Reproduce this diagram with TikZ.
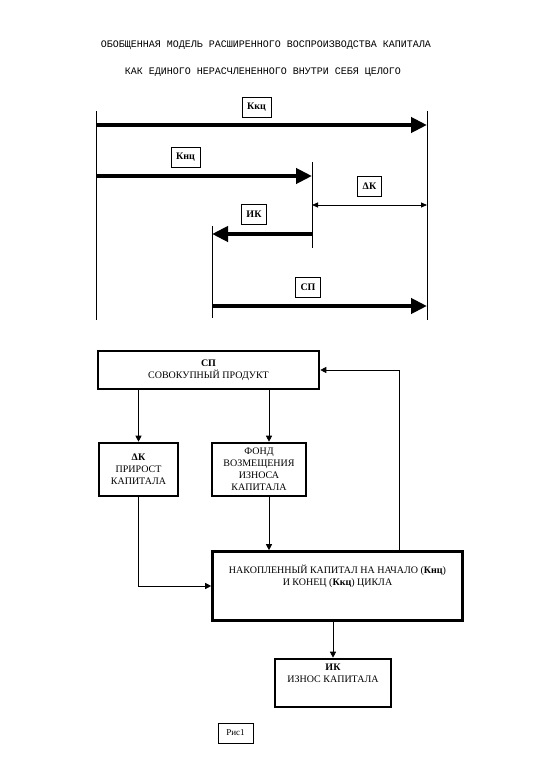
\documentclass[tikz,border=0pt]{standalone}
\usepackage{fontspec}
\setmainfont{Liberation Serif}
\newfontfamily\titlefont{Liberation Mono}
\usetikzlibrary{arrows.meta,positioning,calc}
\tikzset{
  bigarrow/.style={line width=4.5pt, -{Triangle[length=16pt,width=15pt]}},
  thinline/.style={line width=0.8pt},
  dkarrow/.style={line width=0.8pt, {Triangle[length=6pt,width=5pt]}-{Triangle[length=6pt,width=5pt]}},
  tag/.style={draw, line width=0.6pt, font=\fontsize{10}{12}\selectfont\bfseries, inner xsep=5pt, minimum height=20pt},
  flowbox/.style={draw, line width=2.6pt, align=center, font=\fontsize{10}{12}\selectfont, inner sep=2pt},
  boxtext/.style={align=center, font=\fontsize{10}{12}\selectfont, inner sep=1pt},
  flowarrow/.style={line width=0.7pt, -{Triangle[length=6pt,width=6pt]}}
}
\begin{document}
\begin{tikzpicture}[x=1pt,y=-1pt]
  \useasboundingbox (0,0) rectangle (533,778);
  % title
  \node[font=\titlefont\fontsize{10}{12}\selectfont] at (266,45) {ОБОБЩЕННАЯ МОДЕЛЬ РАСШИРЕННОГО ВОСПРОИЗВОДСТВА КАПИТАЛА};
  \node[font=\titlefont\fontsize{10}{12}\selectfont] at (263,72) {КАК ЕДИНОГО НЕРАСЧЛЕНЕННОГО ВНУТРИ СЕБЯ ЦЕЛОГО};
  % limits of the cycle
  \draw[thinline] (96,111) -- (96,320);
  \draw[thinline] (427,111) -- (427,320);
  \draw[thinline] (312,162) -- (312,248);
  \draw[thinline] (212,226) -- (212,318);
  % capital flows
  \draw[bigarrow] (96,125) -- (427,125);
  \node[tag] (kkc) at (256.5,107) {Ккц};
  \draw[bigarrow] (96,176) -- (312,176);
  \node[tag] (knc) at (185.5,157.5) {Кнц};
  \draw[dkarrow] (312,205) -- (427,205);
  \node[tag] (dktag) at (369.5,186) {ΔК};
  \draw[bigarrow] (312,234) -- (212,234);
  \node[tag] (iktag) at (254,214) {ИК};
  \draw[bigarrow] (212,306) -- (427,306);
  \node[tag] (sptag) at (308,287.5) {СП};
  % flow chart
  \node[flowbox, minimum width=221pt, minimum height=38pt] (sp) at (208.5,370) {\textbf{СП}\\СОВОКУПНЫЙ ПРОДУКТ};
  \node[flowbox, minimum width=79pt, minimum height=53pt] (dk) at (138.5,469.5) {\textbf{ΔК}\\ПРИРОСТ\\КАПИТАЛА};
  \node[flowbox, minimum width=94pt, minimum height=53pt] (fond) at (259,469.5) {ФОНД\\ВОЗМЕЩЕНИЯ\\ИЗНОСА\\КАПИТАЛА};
  \node[flowbox, minimum width=250pt, minimum height=69pt] (nk) at (337.5,586) {};
  \node[boxtext, below=14pt of nk.north] (nktext) {НАКОПЛЕННЫЙ КАПИТАЛ НА НАЧАЛО (\textbf{Кнц})\\И КОНЕЦ (\textbf{Ккц}) ЦИКЛА};
  \node[flowbox, minimum width=116pt, minimum height=48pt] (ik) at (333,683) {};
  \node[boxtext, below=5pt of ik.north] (iktext) {\textbf{ИК}\\ИЗНОС КАПИТАЛА};
  \node[draw, line width=0.6pt, font=\fontsize{9}{12}\selectfont, minimum width=35pt, minimum height=20pt, inner sep=1pt] (ris) at (235.5,733) {Рис1};
  \coordinate (fx) at (269,0);
  \coordinate (rx) at (399,0);
  \draw[flowarrow] (sp.south -| dk.north) -- (dk.north);
  \draw[flowarrow] (sp.south -| fx) -- (fond.north -| fx);
  \draw[flowarrow] (fond.south -| fx) -- (nk.north -| fx);
  \draw[flowarrow] (dk.south) |- (nk.west);
  \draw[flowarrow] (nk.north -| rx) |- (sp.east);
  \draw[flowarrow] (nk.south -| ik.north) -- (ik.north);
\end{tikzpicture}
\end{document}
